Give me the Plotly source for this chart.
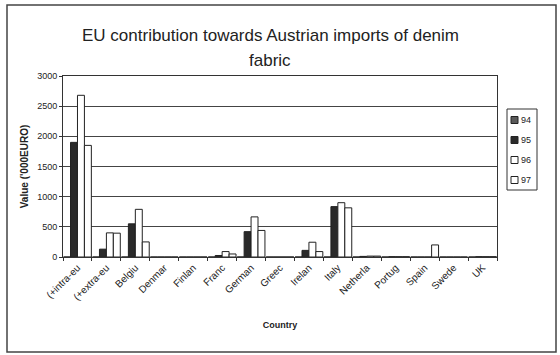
import plotly.graph_objects as go

countries = ["(+intra-eu", "(+extra-eu", "Belgiu", "Denmar", "Finlan", "Franc",
             "German", "Greec", "Irelan", "Italy", "Netherla", "Portug",
             "Spain", "Swede", "UK"]
years = ["94", "95", "96", "97"]
v94 = [0, 0, 0, 0, 0, 0, 0, 0, 0, 0, 0, 0, 0, 0, 0]
v95 = [1900, 130, 550, 0, 0, 25, 420, 0, 110, 835, 10, 5, 0, 0, 5]
v96 = [2680, 400, 790, 0, 0, 90, 665, 0, 245, 900, 15, 5, 0, 0, 5]
v97 = [1850, 395, 250, 0, 0, 50, 440, 0, 90, 815, 15, 5, 200, 0, 5]

series = [v94, v95, v96, v97]
fills = ["#5a5a5a", "#2a2a2a", "#ffffff", "#ffffff"]

FONT = "Liberation Sans, Arial, sans-serif"

# plot area in pixels (for placing decorations in paper space)
L, R, T, B = 63, 497, 76, 257
W, H = R - L, B - T


def px(x):
    return (x - L) / W


def py(y):
    return (B - y) / H


fig = go.Figure()
for name, vals, col in zip(years, series, fills):
    fig.add_trace(go.Bar(
        x=countries, y=vals, name=name, showlegend=False,
        marker=dict(color=col, line=dict(color="#222", width=1)),
    ))

fig.update_layout(
    width=560, height=355,
    margin=dict(l=L, r=560 - R, t=T, b=355 - B),
    paper_bgcolor="white", plot_bgcolor="white",
    barmode="group", bargap=0.04, bargroupgap=0,
    font=dict(family=FONT, color="#222", size=8),
    xaxis=dict(
        type="category", tickangle=-45, tickson="boundaries",
        ticks="outside", ticklen=3, tickcolor="#333",
        showline=True, linecolor="#333", linewidth=1, mirror=True,
        tickfont=dict(size=10, color="#222"),
        title=dict(text="<b>Country</b>", font=dict(size=9), standoff=20),
    ),
    yaxis=dict(
        range=[0, 3000], dtick=500,
        showgrid=True, gridcolor="#444", gridwidth=1.2,
        ticks="outside", ticklen=3, tickcolor="#333",
        showline=True, linecolor="#333", linewidth=1, mirror=True,
        tickfont=dict(size=9, color="#222"),
        title=dict(text="<b>Value ('000EURO)</b>", font=dict(size=10), standoff=6),
        zeroline=False,
    ),
)

# two-line chart title
fig.add_annotation(
    text="EU contribution towards Austrian imports of denim",
    xref="paper", yref="paper", x=px(270), y=py(35),
    xanchor="center", yanchor="middle", showarrow=False,
    font=dict(size=17, family=FONT, color="#222"),
)
fig.add_annotation(
    text="fabric",
    xref="paper", yref="paper", x=px(270), y=py(60),
    xanchor="center", yanchor="middle", showarrow=False,
    font=dict(size=17, family=FONT, color="#222"),
)

# legend box with one swatch and label per year
fig.add_shape(type="rect", xref="paper", yref="paper",
              x0=px(507), x1=px(537), y0=py(190), y1=py(109),
              line=dict(color="#333", width=1), fillcolor="white")
for i, (name, col) in enumerate(zip(years, fills)):
    cy = 120 + i * 20
    fig.add_shape(type="rect", xref="paper", yref="paper",
                  x0=px(511), x1=px(518), y0=py(cy + 3.5), y1=py(cy - 3.5),
                  line=dict(color="#222", width=1), fillcolor=col)
    fig.add_annotation(text=name, xref="paper", yref="paper",
                       x=px(519), y=py(cy), xanchor="left", yanchor="middle",
                       showarrow=False, font=dict(size=9, color="#222"))

# outer chart frame
fig.add_shape(
    type="rect", xref="paper", yref="paper",
    x0=px(7), x1=px(556), y0=py(352), y1=py(5),
    line=dict(color="#444", width=1.5), layer="below",
)

fig.write_html("out.html")
